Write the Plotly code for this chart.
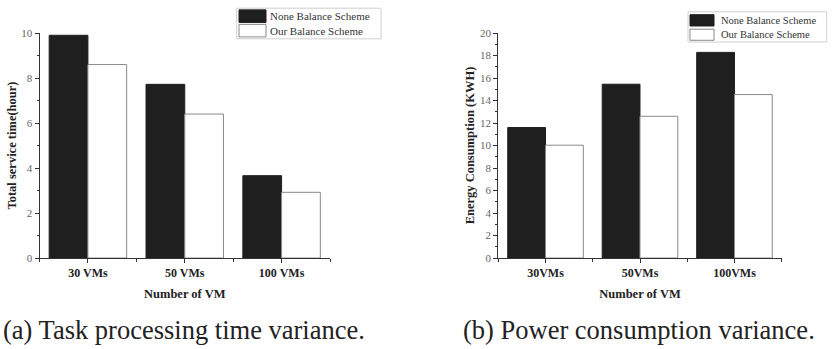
import plotly.graph_objects as go

# ---------------- data ----------------
categories_a = ["30 VMs", "50 VMs", "100 VMs"]
none_balance_a = [9.9, 7.72, 3.66]
our_balance_a = [8.6, 6.4, 2.92]

categories_b = ["30VMs", "50VMs", "100VMs"]
none_balance_b = [11.6, 15.45, 18.28]
our_balance_b = [10.03, 12.6, 14.53]

series_names = ["None Balance Scheme", "Our Balance Scheme"]
ytitle_a = "Total service time(hour)"
ytitle_b = "Energy Consumption (KWH)"
xtitle = "Number of VM"
caption_a = "(a) Task processing time variance."
caption_b = "(b) Power consumption variance."

W, H = 833, 349
SERIF = "Liberation Serif, Times New Roman, serif"
BLACK = "#1f1f1f"
GRAY_LINE = "#8a8a8a"

fig = go.Figure()

xa = list(range(1, len(categories_a) + 1))
xb = list(range(1, len(categories_b) + 1))

fig.add_trace(go.Bar(x=xa, y=none_balance_a, name=series_names[0], xaxis="x", yaxis="y",
                     marker=dict(color=BLACK, line=dict(color=BLACK, width=1)), showlegend=False))
fig.add_trace(go.Bar(x=xa, y=our_balance_a, name=series_names[1], xaxis="x", yaxis="y",
                     marker=dict(color="white", line=dict(color=GRAY_LINE, width=1)), showlegend=False))
fig.add_trace(go.Bar(x=xb, y=none_balance_b, name=series_names[0], xaxis="x2", yaxis="y2",
                     marker=dict(color=BLACK, line=dict(color=BLACK, width=1)), showlegend=False))
fig.add_trace(go.Bar(x=xb, y=our_balance_b, name=series_names[1], xaxis="x2", yaxis="y2",
                     marker=dict(color="white", line=dict(color=GRAY_LINE, width=1)), showlegend=False))

def px(v):
    return v / W

def py(v):
    return 1 - v / H

ydom = [py(261), py(28)]

axis_common = dict(showline=True, linecolor="#333", linewidth=1, showgrid=False, zeroline=False,
                   ticks="outside", ticklen=4, tickcolor="#333")

def xaxis_cfg(cats, domain, anchor):
    return dict(domain=domain, anchor=anchor, range=[0.5, len(cats) + 0.5],
                tickmode="array", tickvals=list(range(1, len(cats) + 1)), ticktext=cats,
                tickfont=dict(family=SERIF, size=12, color="#222", weight="bold"),
                title=dict(text="<b>" + xtitle + "</b>", font=dict(family=SERIF, size=12.5, color="#222"), standoff=9),
                minor=dict(tick0=0.5, dtick=1, ticks="outside", ticklen=3, tickcolor="#333"),
                **axis_common)

def yaxis_cfg(rng, title, domain, anchor, standoff):
    return dict(domain=domain, anchor=anchor, range=rng, dtick=2, tick0=0,
                tickfont=dict(family=SERIF, size=11, color="#666"),
                title=dict(text="<b>" + title + "</b>", font=dict(family=SERIF, size=12.5, color="#222"), standoff=standoff),
                minor=dict(dtick=1, ticks="outside", ticklen=2, tickcolor="#333"),
                **axis_common)

fig.update_layout(
    width=W, height=H, margin=dict(l=0, r=0, t=0, b=0),
    paper_bgcolor="white", plot_bgcolor="white",
    barmode="group", bargap=0.2, bargroupgap=0,
    showlegend=False,
    xaxis=xaxis_cfg(categories_a, [px(39.5), px(330)], "y"),
    yaxis=yaxis_cfg([0, 10], ytitle_a, ydom, "x", 1),
    xaxis2=xaxis_cfg(categories_b, [px(498.3), px(781.7)], "y2"),
    yaxis2=yaxis_cfg([0, 20], ytitle_b, ydom, "x2", 2),
)

# custom legends (paper coords)
shapes = []
annotations = []

def add_legend(box, sw_x, rows, text_x, font_size):
    x0, x1, y0, y1 = box
    shapes.append(dict(type="rect", xref="paper", yref="paper", x0=px(x0), x1=px(x1), y0=py(y1), y1=py(y0),
                       line=dict(color="#d0d0d0", width=1), fillcolor="white", layer="above"))
    styles = [(BLACK, BLACK), ("white", GRAY_LINE)]
    for i, (ry0, ry1) in enumerate(rows):
        fill, ln = styles[i]
        shapes.append(dict(type="rect", xref="paper", yref="paper", x0=px(sw_x[0]), x1=px(sw_x[1]),
                           y0=py(ry1), y1=py(ry0), line=dict(color=ln, width=1), fillcolor=fill, layer="above"))
        annotations.append(dict(xref="paper", yref="paper", x=px(text_x), y=py((ry0 + ry1) / 2),
                                xanchor="left", yanchor="middle", showarrow=False, text=series_names[i],
                                font=dict(family=SERIF, size=font_size, color="#333")))

add_legend((236.7, 381, 2.3, 34), (239, 266), [(4, 17), (19, 32)], 267.5, 11)
add_legend((688, 826.7, 6, 37.3), (690, 714), [(9, 20.7), (24, 35.5)], 719, 10.5)

annotations.append(dict(xref="paper", yref="paper", x=px(184), y=py(336), xanchor="center", yanchor="middle",
                        showarrow=False, text=caption_a, font=dict(family=SERIF, size=26.5, color="#222")))
annotations.append(dict(xref="paper", yref="paper", x=px(639), y=py(336), xanchor="center", yanchor="middle",
                        showarrow=False, text=caption_b, font=dict(family=SERIF, size=26.5, color="#222")))

fig.update_layout(shapes=shapes, annotations=annotations)

fig.write_html("out.html", config={"displayModeBar": False},
               post_script="document.body.style.margin='0';document.body.style.overflow='hidden';")
